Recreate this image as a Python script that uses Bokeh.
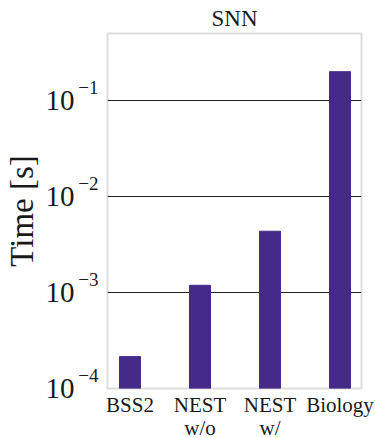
from bokeh.plotting import figure
from bokeh.models import Range1d, FixedTicker, LogAxis, LinearAxis, LogScale, Grid
from bokeh.embed import file_html
from bokeh.resources import INLINE

categories_line1 = ["BSS2", "NEST", "NEST", "Biology"]
categories_line2 = ["", "w/o", "w/", ""]
times = [2.15e-4, 1.19e-3, 4.35e-3, 0.2]
y_ticks = [1e-4, 1e-3, 1e-2, 1e-1]
y_tick_bases = ["10", "10", "10", "10"]
y_tick_exponents = ["\u22124", "\u22123", "\u22122", "\u22121"]
title_text = "SNN"
y_label = "Time [s]"

FONT = "Liberation Serif"
TXT = "#1a1a1a"
Y0, Y1 = 1e-4, 0.5

xs = list(range(len(categories_line1)))
bottoms = [Y0] * len(xs)

p = figure(frame_width=254, frame_height=355, y_axis_type="log", output_backend="svg",
           toolbar_location=None, x_range=Range1d(-0.321, 3.307),
           y_range=Range1d(Y0, Y1),
           x_axis_location=None, y_axis_location=None,
           min_border_left=99, min_border_right=14, min_border_top=25, min_border_bottom=0)

for g in p.grid:
    g.visible = False

shift = 10 ** -0.135
p.extra_y_ranges = {"exp": Range1d(Y0 * shift, Y1 * shift)}
p.extra_y_scales = {"exp": LogScale()}

p.vbar(x=xs, top=times, bottom=bottoms, width=0.3, fill_color="#452A89", line_color="#452A89")

p.title.text = title_text
p.title.align = "center"
p.title.text_font = FONT
p.title.text_font_style = "normal"
p.title.text_font_size = "23px"
p.title.text_color = TXT
p.title.standoff = 6


def style_axis(ax):
    ax.major_tick_line_color = None
    ax.minor_tick_line_color = None
    ax.major_tick_out = 0
    ax.major_tick_in = 0
    ax.minor_tick_out = 0
    ax.minor_tick_in = 0
    ax.axis_line_color = None
    ax.major_label_text_font = FONT
    ax.major_label_text_color = TXT


# y exponent axis (nearest the frame)
exp_axis = LogAxis(y_range_name="exp", ticker=FixedTicker(ticks=y_ticks))
exp_axis.major_label_overrides = {t: e for t, e in zip(y_ticks, y_tick_exponents)}
style_axis(exp_axis)
exp_axis.major_label_text_font_size = "19px"
exp_axis.major_label_standoff = 9
p.add_layout(exp_axis, "left")

# y base axis
base_axis = LogAxis(ticker=FixedTicker(ticks=y_ticks))
base_axis.major_label_overrides = {t: b for t, b in zip(y_ticks, y_tick_bases)}
style_axis(base_axis)
base_axis.major_label_text_font_size = "29px"
base_axis.major_label_standoff = 1
base_axis.axis_label = y_label
base_axis.axis_label_text_font = FONT
base_axis.axis_label_text_font_style = "normal"
base_axis.axis_label_text_font_size = "33px"
base_axis.axis_label_text_color = TXT
base_axis.axis_label_standoff = 3
p.add_layout(base_axis, "left")

# x axes (two label lines)
x1 = LinearAxis(ticker=FixedTicker(ticks=xs))
x1.major_label_overrides = {i: c for i, c in zip(xs, categories_line1)}
style_axis(x1)
x1.major_label_text_font_size = "21px"
x1.major_label_standoff = 4
p.add_layout(x1, "below")

x2 = LinearAxis(ticker=FixedTicker(ticks=xs))
x2.major_label_overrides = {i: c for i, c in zip(xs, categories_line2)}
style_axis(x2)
x2.major_label_text_font_size = "21px"
x2.major_label_standoff = -4
p.add_layout(x2, "below")

grid = Grid(dimension=1, ticker=FixedTicker(ticks=y_ticks[1:]))
grid.grid_line_color = "#222222"
grid.grid_line_width = 1.2
p.add_layout(grid)

p.outline_line_color = "#dddddd"
p.outline_line_width = 2
p.background_fill_color = "white"
p.border_fill_color = "white"

open("out.html", "w").write(file_html(p, INLINE))
